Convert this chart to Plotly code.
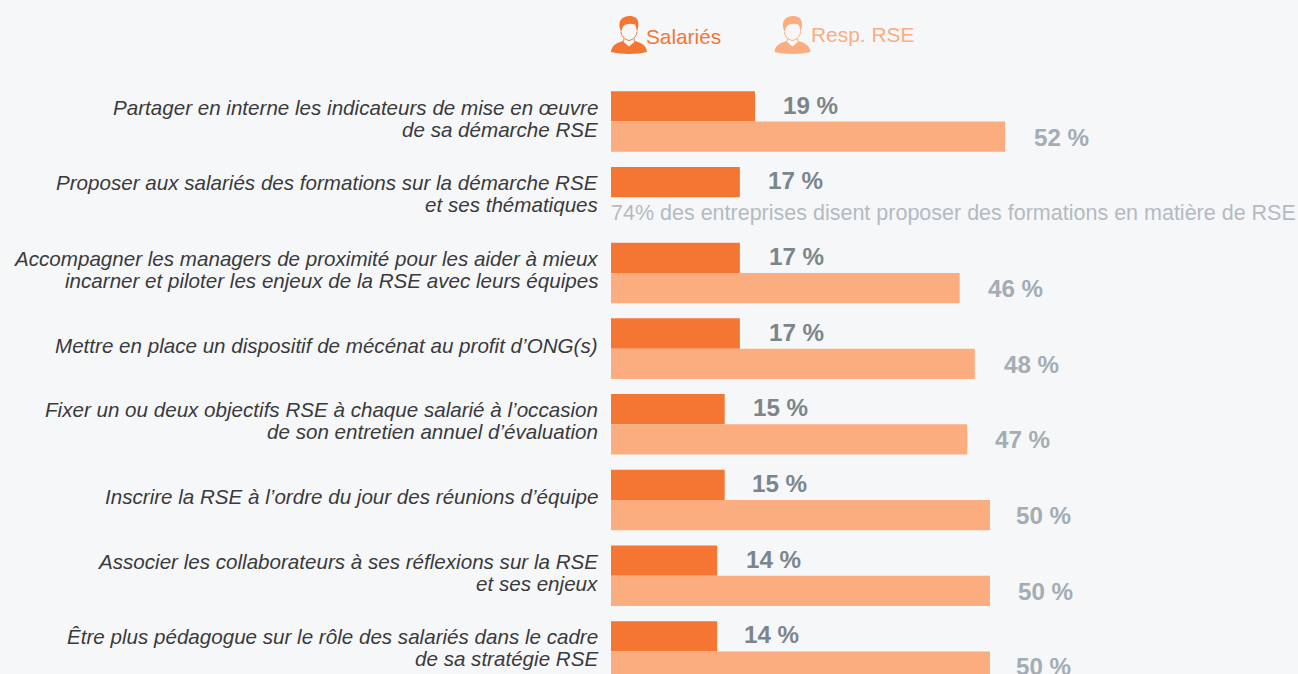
import plotly.graph_objects as go

categories = ["partager", "former", "accompagner", "mecenat", "objectifs", "reunions", "associer", "pedagogue"]
label_lines = [
    ["Partager en interne les indicateurs de mise en œuvre", "de sa démarche RSE"],
    ["Proposer aux salariés des formations sur la démarche RSE", "et ses thématiques"],
    ["Accompagner les managers de proximité pour les aider à mieux", "incarner et piloter les enjeux de la RSE avec leurs équipes"],
    ["Mettre en place un dispositif de mécénat au profit d’ONG(s)"],
    ["Fixer un ou deux objectifs RSE à chaque salarié à l’occasion", "de son entretien annuel d’évaluation"],
    ["Inscrire la RSE à l’ordre du jour des réunions d’équipe"],
    ["Associer les collaborateurs à ses réflexions sur la RSE", "et ses enjeux"],
    ["Être plus pédagogue sur le rôle des salariés dans le cadre", "de sa stratégie RSE"],
]
salaries = [19, 17, 17, 17, 15, 15, 14, 14]
resp_rse = [52, None, 46, 48, 47, 50, 50, 50]
note_text = "74% des entreprises disent proposer des formations en matière de RSE"
series_names = ["Salariés", "Resp. RSE"]

DARK, LIGHT, BG = "#f47632", "#fbad80", "#f6f7f9"
W, H = 1298, 674
LEFT = 611
PX_PER_UNIT = 7.58
ROW = 75.71
FIRST = 121.5
# horizontal gap (px) between each bar end and its value label
GAP_A = [28, 28, 29, 29, 28, 27, 29, 27]
GAP_B = [29, 0, 28, 29, 28, 26, 28, 26]

fig = go.Figure()
fig.add_bar(y=categories, x=salaries, orientation="h", name=series_names[0], marker_color=DARK, marker_line_width=0)
fig.add_bar(y=categories, x=resp_rse, orientation="h", name=series_names[1], marker_color=LIGHT, marker_line_width=0)

ann = []
for cat, lines in zip(categories, label_lines):
    shifts = [3.5] if len(lines) == 1 else [14.5, -7.5]
    for text, s in zip(lines, shifts):
        ann.append(dict(x=0, xref="paper", y=cat, yref="y", text=f"<i>{text}</i>", xanchor="right", yanchor="middle",
                        xshift=-13.5, yshift=s, showarrow=False, borderpad=0, borderwidth=0,
                        font=dict(family="Liberation Sans", size=20.6, color="#3a3a3c")))
for i, (cat, a, b) in enumerate(zip(categories, salaries, resp_rse)):
    ann.append(dict(x=a, y=cat, text=f"<b>{a} %</b>", xanchor="left", yanchor="middle", xshift=GAP_A[i], yshift=16.5,
                    showarrow=False, borderpad=0, borderwidth=0,
                    font=dict(family="Liberation Sans", size=24.2, color="#7b868c")))
    if b is not None:
        ann.append(dict(x=b, y=cat, text=f"<b>{b} %</b>", xanchor="left", yanchor="middle", xshift=GAP_B[i], yshift=-15.5,
                        showarrow=False, borderpad=0, borderwidth=0,
                        font=dict(family="Liberation Sans", size=24.2, color="#a3adb3")))
ann.append(dict(x=0, y=categories[1], text=note_text, xanchor="left", yanchor="middle", xshift=0, yshift=-15.5,
                showarrow=False, borderpad=0, borderwidth=0,
                font=dict(family="Liberation Sans", size=21.5, color="#b3bbc1")))
ann.append(dict(x=(646-LEFT)/(W-LEFT), xref="paper", y=1-36.5/H, yref="paper", text=series_names[0], xanchor="left", yanchor="middle",
                showarrow=False, borderpad=0, borderwidth=0, font=dict(family="Liberation Sans", size=20.8, color=DARK)))
ann.append(dict(x=(811-LEFT)/(W-LEFT), xref="paper", y=1-35/H, yref="paper", text=series_names[1], xanchor="left", yanchor="middle",
                showarrow=False, borderpad=0, borderwidth=0, font=dict(family="Liberation Sans", size=20.9, color=LIGHT)))

def icon(x_px, y_px, color):
    body = ("M -18 -17.5 C -17.5 -11 -13 -9 -6.5 -6.5 L 0 -12 L 6.5 -6.5 "
            "C 13 -9 17.5 -11 18 -17.5 C 9 -20 -9 -20 -18 -17.5 Z")
    hair = ("M -8 3 C -10 8 -10.5 12 -7.5 15.5 C -4 19 3 19.5 7 16.5 C 10.5 13.5 9.5 7 8 3 "
            "C 7.5 6 7 8 6 10 C 2 11.5 -3 11 -5.5 8.5 C -6.5 7 -7 5 -8 3 Z")
    face = ("M -8 3 C -8 -1 -5 -5 0 -6 C 5 -5 8 -1 8 3 "
            "M -5 -4 L -5.5 -7 M 5 -4 L 5.5 -7")
    common = dict(type="path", xref="paper", yref="paper", xsizemode="pixel", ysizemode="pixel",
                  xanchor=(x_px-LEFT)/(W-LEFT), yanchor=1-y_px/H, layer="above")
    return [dict(path=body, line_width=0, fillcolor=color, **common),
            dict(path=hair, line_width=0, fillcolor=color, **common),
            dict(path=face, line=dict(color=color, width=1), fillcolor="rgba(0,0,0,0)", **common)]

fig.update_layout(
    width=W, height=H, margin=dict(l=LEFT, r=0, t=0, b=0, pad=0),
    paper_bgcolor=BG, plot_bgcolor=BG, showlegend=False, barmode="group", bargap=0.2, bargroupgap=0,
    xaxis=dict(range=[0, (W-LEFT)/PX_PER_UNIT], visible=False),
    yaxis=dict(type="category", categoryorder="array", categoryarray=categories,
               range=[(H-FIRST)/ROW, -FIRST/ROW], showticklabels=False, showgrid=False, zeroline=False, ticks=""),
    annotations=ann,
    shapes=icon(629, 34.5, DARK) + icon(792.5, 34.5, LIGHT),
)
fig.write_html("out.html", post_script="document.body.style.margin='0';document.body.style.background='%s';" % BG,
               config={"displayModeBar": False})
